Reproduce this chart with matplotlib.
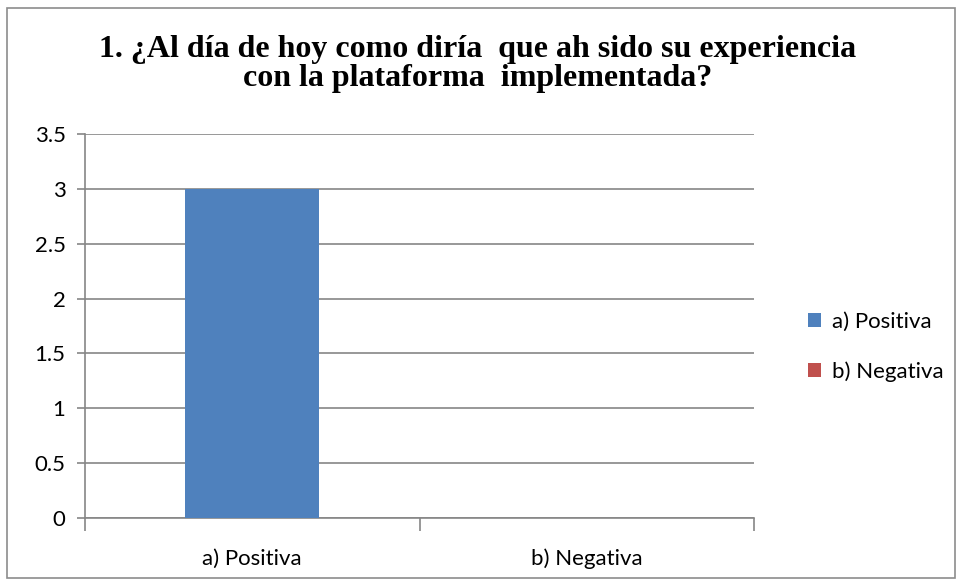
import matplotlib.pyplot as plt
from matplotlib.patches import Rectangle

categories = ["a) Positiva", "b) Negativa"]
values = [3, 0]
colors = ["#4F81BD", "#C0504D"]
yticks = [0, 0.5, 1, 1.5, 2, 2.5, 3, 3.5]
title = "1. ¿Al día de hoy como diría  que ah sido su experiencia\ncon la plataforma  implementada?"

grid_col = "#868686"
sans = ["Lato", "DejaVu Sans"]

fig = plt.figure(figsize=(9.56, 5.79), dpi=100)
ax = fig.add_axes([85 / 956, 1 - 518 / 579, (754 - 85) / 956, (518 - 134) / 579])

# outer chart border
fig.patches.append(Rectangle((7 / 956, 1 / 579), 948 / 956, 570 / 579,
                             transform=fig.transFigure, fill=False,
                             edgecolor="#8c8c8c", linewidth=1.2))

x = list(range(len(categories)))
bars = []
for i, (v, c) in enumerate(zip(values, colors)):
    bars.append(ax.bar(x[i], v, width=0.4, color=c, zorder=3, label=categories[i]))

ax.set_xlim(-0.5, 1.5)
ax.set_ylim(0, 3.5)
ax.set_yticks(yticks)
ax.set_yticklabels([f"{t:g}" for t in yticks], family=sans, fontsize=16)
ax.yaxis.grid(True, color=grid_col, linewidth=1.2, zorder=0)
ax.set_axisbelow(True)

# category ticks between groups, labels centred on the bars
ax.set_xticks([-0.5, 0.5, 1.5])
ax.set_xticklabels([])
ax.set_xticks(x, minor=True)
ax.set_xticklabels(categories, minor=True, family=sans, fontsize=16)
ax.tick_params(axis="x", which="major", direction="out", length=9, color=grid_col, width=1.2)
ax.tick_params(axis="x", which="minor", length=0, pad=22)
ax.tick_params(axis="y", direction="out", length=6, color=grid_col, width=1.2, pad=8)

for s in ["top", "right"]:
    ax.spines[s].set_visible(False)
for s in ["left", "bottom"]:
    ax.spines[s].set_color(grid_col)
    ax.spines[s].set_linewidth(1.2)

fig.text(0.5, 1 - 64 / 579, title, ha="center", va="center", family="Liberation Serif",
         fontweight="bold", fontsize=23, linespacing=0.97)

leg = fig.legend(handles=[b[0] for b in bars], labels=categories,
                 loc="center left", bbox_to_anchor=(788 / 956, 1 - 347 / 579),
                 frameon=False, prop={"family": sans, "size": 16},
                 handlelength=0.6, handleheight=0.6, handletextpad=0.5, labelspacing=1.3)

fig.savefig("out.png", dpi=100)
